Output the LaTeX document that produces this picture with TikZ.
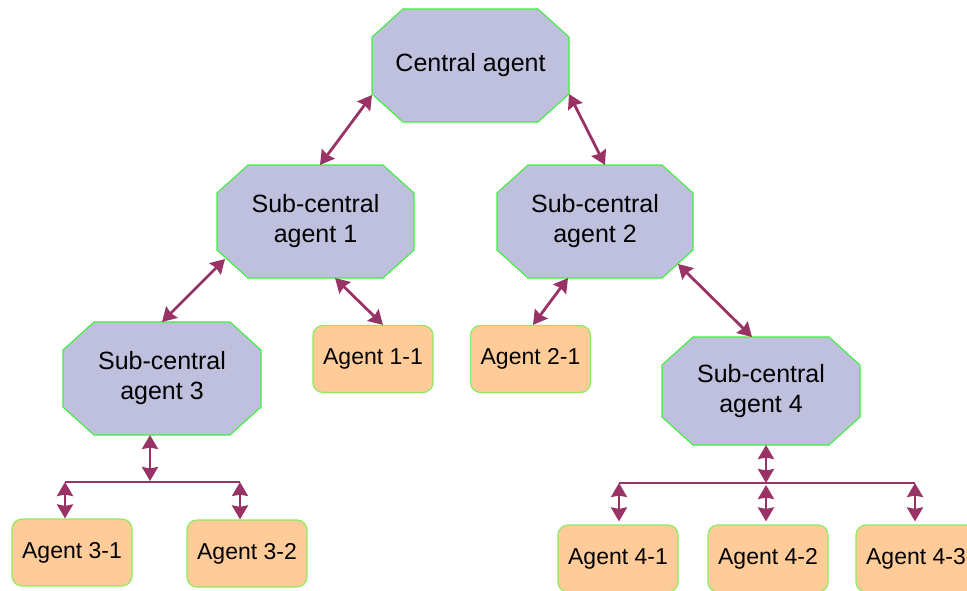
\documentclass[tikz,border=0pt]{standalone}
\usepackage{fontspec}
\setmainfont{Liberation Sans}
\usetikzlibrary{arrows.meta,backgrounds}

\definecolor{octfill}{RGB}{191,192,222}
\definecolor{octedge}{RGB}{60,240,60}
\definecolor{agentfill}{RGB}{255,204,153}
\definecolor{agentedge}{RGB}{140,235,95}
\definecolor{linkcol}{RGB}{153,51,102}

\tikzset{
  octbox/.style={inner sep=0pt, outer sep=0pt, align=center,
    font=\fontsize{25}{30}\selectfont},
  octline/.style={fill=octfill, draw=octedge, line width=1.1pt},
  agentbox/.style={rectangle, rounded corners=10pt, fill=agentfill,
    draw=agentedge, line width=1.2pt, minimum width=120pt, minimum height=67pt,
    inner sep=0pt, font=\fontsize{23}{27}\selectfont},
  tip/.tip={Stealth[length=14pt,width=16pt,inset=1.5pt]},
  link/.style={draw=linkcol, line width=2.8pt, tip-tip},
  bus/.style={draw=linkcol, line width=2.4pt},
}

% octagonal outline behind a named rectangular node
\newcommand\octoutline[1]{%
  \begin{pgfonlayer}{background}
    \filldraw[octline]
      ([xshift=31pt]#1.north west) -- ([xshift=-31pt]#1.north east)
      -- ([yshift=-28pt]#1.north east) -- ([yshift=28pt]#1.south east)
      -- ([xshift=-31pt]#1.south east) -- ([xshift=31pt]#1.south west)
      -- ([yshift=28pt]#1.south west) -- ([yshift=-28pt]#1.north west)
      -- cycle;
  \end{pgfonlayer}}

\begin{document}
\begin{tikzpicture}[x=1pt,y=-1pt]
  \useasboundingbox (0,0) rectangle (967,590);
  \clip (0,0) rectangle (967,590);

  % coordinating agents
  \node[octbox, minimum width=197pt, minimum height=113pt] (ca) at (470.5,65.5) {Central agent};
  \node[octbox, minimum width=197pt, minimum height=113pt] (s1) at (315.5,221.5) {Sub-central\\agent 1};
  \node[octbox, minimum width=196pt, minimum height=113pt] (s2) at (595,221.5) {Sub-central\\agent 2};
  \node[octbox, minimum width=198pt, minimum height=113pt] (s3) at (162,378.5) {Sub-central\\agent 3};
  \node[octbox, minimum width=198pt, minimum height=108pt] (s4) at (761,391) {Sub-central\\agent 4};
  \octoutline{ca}
  \octoutline{s1}
  \octoutline{s2}
  \octoutline{s3}
  \octoutline{s4}

  % leaf agents
  \node[agentbox] (a11) at (373,359) {Agent 1-1};
  \node[agentbox] (a21) at (530.5,359) {Agent 2-1};
  \node[agentbox] (a31) at (72,552.5) {Agent 3-1};
  \node[agentbox] (a32) at (247,553.5) {Agent 3-2};
  \node[agentbox] (a41) at (618,558.5) {Agent 4-1};
  \node[agentbox] (a42) at (768,558.5) {Agent 4-2};
  \node[agentbox] (a43) at (916,558.5) {Agent 4-3};

  % bus junctions
  \coordinate (b3)  at (150,481);
  \coordinate (b3l) at (65,482);
  \coordinate (b3r) at (240,482);
  \coordinate (b4)  at (766,483);
  \coordinate (b4l) at (619,483);
  \coordinate (b4r) at (915,483);

  % direct links
  \draw[link] ([yshift=27pt]ca.south west) -- ([xshift=4.5pt]s1.north);
  \draw[link] ([yshift=28pt]ca.south east) -- ([xshift=10pt]s2.north);
  \draw[link] ([xshift=8pt,yshift=19pt]s1.south west) -- (s3.north);
  \draw[link] ([xshift=19.5pt]s1.south) -- ([xshift=10pt]a11.north);
  \draw[link] ([xshift=-27pt]s2.south) -- ([xshift=2.5pt]a21.north);
  \draw[link] ([xshift=-15pt,yshift=14pt]s2.south east) -- ([xshift=-9pt]s4.north);

  % bus under sub-central agent 3
  \draw[bus] (b3l) -- (b3r);
  \draw[link] ([xshift=-12pt]s3.south) -- (b3);
  \draw[link] (b3l) -- (b3l |- a31.north);
  \draw[link] (b3r) -- (b3r |- a32.north);

  % bus under sub-central agent 4
  \draw[bus] (b4l) -- (b4r);
  \draw[link] ([xshift=5pt]s4.south) -- (b4);
  \draw[link] (b4l) -- ([yshift=3pt]b4l |- a41.north);
  \draw[link] ([yshift=-2pt]b4) -- ([yshift=3pt]b4 |- a42.north);
  \draw[link] (b4r) -- ([yshift=3pt]b4r |- a43.north);
\end{tikzpicture}
\end{document}
